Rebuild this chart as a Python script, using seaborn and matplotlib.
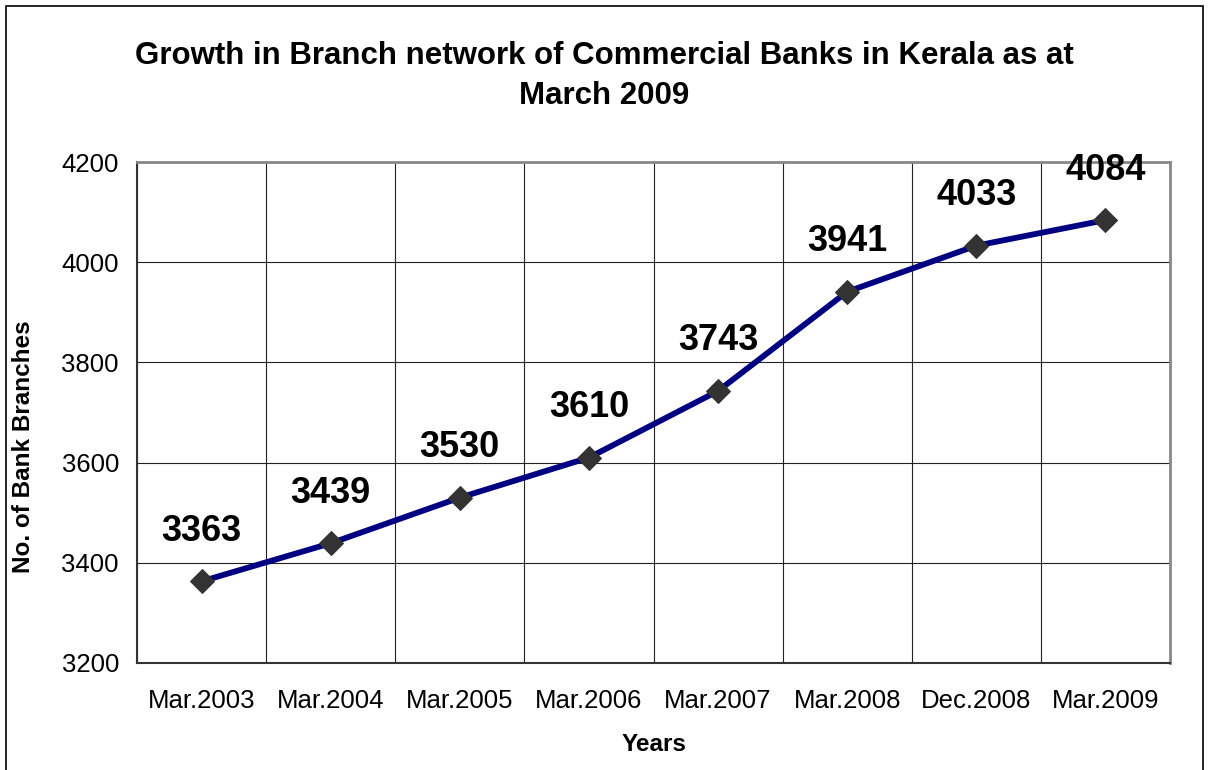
import matplotlib
matplotlib.use("Agg")
import matplotlib.pyplot as plt
import seaborn as sns
import pandas as pd
from matplotlib.patches import Rectangle

periods = ["Mar.2003", "Mar.2004", "Mar.2005", "Mar.2006",
           "Mar.2007", "Mar.2008", "Dec.2008", "Mar.2009"]
branches = [3363, 3439, 3530, 3610, 3743, 3941, 4033, 4084]
y_ticks = [3200, 3400, 3600, 3800, 4000, 4200]

df = pd.DataFrame({"period": periods, "branches": branches})

sns.set_style("white")
plt.rcParams["font.family"] = ["Liberation Sans", "DejaVu Sans"]
plt.rcParams["text.color"] = "black"
plt.rcParams["axes.labelcolor"] = "black"
plt.rcParams["xtick.color"] = "black"
plt.rcParams["ytick.color"] = "black"

fig = plt.figure(figsize=(12.08, 7.7), dpi=100)
ax = fig.add_axes([137 / 1208, 1 - 663 / 770, (1170 - 137) / 1208, (663 - 162) / 770])

sns.lineplot(data=df, x="period", y="branches", ax=ax, color="#000080",
             linewidth=4.2, marker="D", markersize=12,
             markerfacecolor="#333333", markeredgecolor="#333333", zorder=3)

# value labels above each point
for i, v in enumerate(branches):
    ax.annotate(str(v), (i, v), xytext=(0, 36), textcoords="offset points",
                ha="center", va="center", fontsize=26, fontweight="bold")

ax.set_xlim(-0.5, len(periods) - 0.5)
ax.set_ylim(3200, 4200)
ax.set_yticks(y_ticks)
ax.set_xticks(range(len(periods)))
ax.set_xticklabels(periods)
ax.set_xticks([i - 0.5 for i in range(len(periods) + 1)], minor=True)
ax.tick_params(axis="x", which="major", length=0, pad=19, labelsize=18.5)
ax.tick_params(axis="x", which="minor", length=6, width=1, color="#333333", direction="out")
ax.tick_params(axis="y", length=6, width=1, color="#333333", direction="out", labelsize=18.5, pad=7)
ax.grid(True, axis="y", which="major", color="#222222", linewidth=0.8)
ax.grid(True, axis="x", which="minor", color="#222222", linewidth=0.8)
ax.set_axisbelow(True)

for side in ["top", "right"]:
    ax.spines[side].set_color("#888888")
    ax.spines[side].set_linewidth(2)
for side in ["left", "bottom"]:
    ax.spines[side].set_color("#333333")
    ax.spines[side].set_linewidth(1.5)

ax.set_xlabel("Years", fontsize=17.5, fontweight="bold", labelpad=14)
ax.set_ylabel("No. of Bank Branches", fontsize=17.5, fontweight="bold")
ax.yaxis.set_label_coords(-0.099, 0.431)

fig.text(0.5, 1 - 76 / 770, "Growth in Branch network of Commercial Banks in Kerala as at\nMarch 2009",
         ha="center", va="center", fontsize=22.5, fontweight="bold", linespacing=1.45)

fig.patches.append(Rectangle((6 / 1208, -0.01), 1197 / 1208, 1 - 6 / 770 + 0.01,
                             transform=fig.transFigure, fill=False,
                             edgecolor="black", linewidth=1.2))

fig.savefig("out.png", dpi=100)
plt.close(fig)
